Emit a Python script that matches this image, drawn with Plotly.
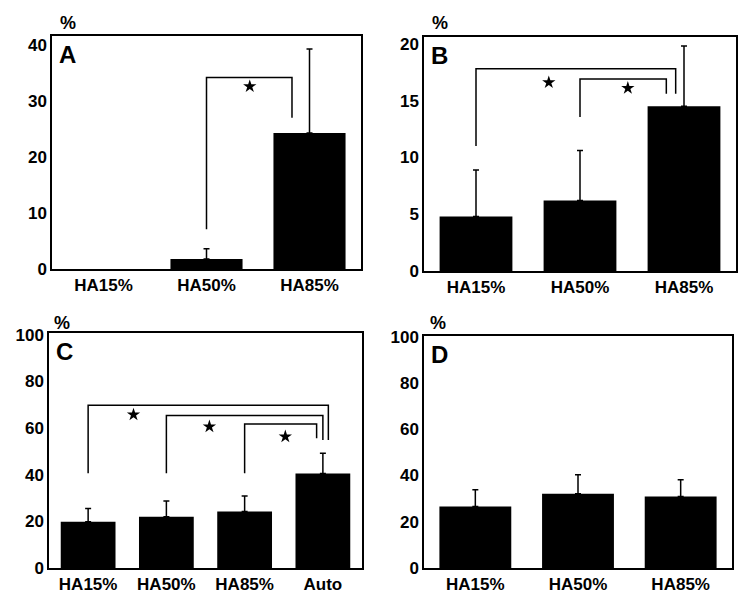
import math
import plotly.graph_objects as go

W, H = 741, 594

# ---- data ----
cats_3 = ["HA15%", "HA50%", "HA85%"]
cats_4 = ["HA15%", "HA50%", "HA85%", "Auto"]

a_vals = [0, 1.8, 24.3]
a_sd = [float("nan"), 1.8, 15.0]
b_vals = [4.8, 6.2, 14.5]
b_sd = [4.1, 4.4, 5.3]
c_vals = [19.8, 22.0, 24.2, 40.5]
c_sd = [5.7, 6.7, 6.6, 8.7]
d_vals = [26.6, 32.1, 30.9]
d_sd = [7.2, 8.2, 7.2]

# brackets: (left x, right x, top y, left bottom y, right bottom y)
a_brackets = [(1, 1.83, 34.2, 7.1, 27.0)]
a_stars_x, a_stars_y = [1.42], [32.6]
b_brackets = [(0, 1.92, 17.8, 11.0, 15.6), (1, 1.83, 16.9, 13.55, 15.6)]
b_stars_x, b_stars_y = [0.70, 1.46], [16.6, 16.1]
c_brackets = [(0, 3.07, 69.7, 40.6, 54.9), (1, 3.0, 65.4, 40.6, 54.9), (2, 2.92, 61.7, 40.6, 55.6)]
c_stars_x, c_stars_y = [0.58, 1.55, 2.52], [65.7, 60.6, 56.3]

a_ticks = [0, 10, 20, 30, 40]
b_ticks = [0, 5, 10, 15, 20]
cd_ticks = [0, 20, 40, 60, 80, 100]

# panel boxes in pixels: x0, x1, ytop, ybottom
boxes = {
    "A": (52, 361, 36, 269),
    "B": (424, 736, 37, 271),
    "C": (49, 362, 333, 568),
    "D": (424, 732, 336, 568),
}
yranges = {"A": 41.6, "B": 20.6, "C": 100.7, "D": 100.3}

FONT = "Liberation Sans, Arial, sans-serif"

fig = go.Figure()

panels = [
    ("A", cats_3, a_vals, a_sd, a_ticks, a_brackets, a_stars_x, a_stars_y),
    ("B", cats_3, b_vals, b_sd, b_ticks, b_brackets, b_stars_x, b_stars_y),
    ("C", cats_4, c_vals, c_sd, cd_ticks, c_brackets, c_stars_x, c_stars_y),
    ("D", cats_3, d_vals, d_sd, cd_ticks, [], [], []),
]

layout = {}
for i, (name, cats, vals, sd, ticks, brackets, sx, sy) in enumerate(panels):
    n = i + 1
    xa = "x" if n == 1 else f"x{n}"
    ya = "y" if n == 1 else f"y{n}"
    xpos = list(range(len(cats)))
    fig.add_trace(go.Bar(
        x=xpos, y=vals, width=0.7, marker=dict(color="black", line=dict(width=0)),
        xaxis=xa, yaxis=ya, showlegend=False,
    ))
    keep = [k for k in xpos if not math.isnan(sd[k])]
    fig.add_trace(go.Scatter(
        x=[xpos[k] for k in keep], y=[vals[k] for k in keep], mode="markers",
        marker=dict(size=0.1, color="black", opacity=0),
        error_y=dict(type="data", array=[sd[k] for k in keep], arrayminus=[0] * len(keep),
                     symmetric=False, color="black", thickness=1.5, width=3),
        xaxis=xa, yaxis=ya, showlegend=False, hoverinfo="skip",
    ))
    if brackets:
        bx, by = [], []
        for (l, r, top, lb, rb) in brackets:
            bx += [l, l, r, r, None]
            by += [lb, top, top, rb, None]
        fig.add_trace(go.Scatter(x=bx, y=by, mode="lines", line=dict(color="black", width=1.5),
                                 xaxis=xa, yaxis=ya, showlegend=False, hoverinfo="skip"))
        fig.add_trace(go.Scatter(x=sx, y=sy, mode="markers",
                                 marker=dict(symbol="star", size=10, color="black"),
                                 xaxis=xa, yaxis=ya, showlegend=False))
    x0, x1, yt, yb = boxes[name]
    xkey = "xaxis" if n == 1 else f"xaxis{n}"
    ykey = "yaxis" if n == 1 else f"yaxis{n}"
    layout[xkey] = dict(
        domain=[x0 / W, x1 / W], anchor=ya, range=[-0.5, len(cats) - 0.5],
        tickvals=xpos, ticktext=cats, showline=True, mirror=True, linecolor="black",
        linewidth=1.5, ticks="", showgrid=False, zeroline=False, fixedrange=True,
        automargin=False,
        tickfont=dict(family=FONT, size=17, color="black", weight="bold"),
    )
    layout[ykey] = dict(
        domain=[1 - yb / H, 1 - yt / H], anchor=xa, range=[0, yranges[name]],
        tickvals=ticks, showline=True, mirror=True, linecolor="black",
        linewidth=1.5, ticks="", showgrid=False, zeroline=False, fixedrange=True,
        automargin=False,
        tickfont=dict(family=FONT, size=17, color="black", weight="bold"),
    )

annotations = []
pct_pos = {"A": (68, 23), "B": (440, 23), "C": (62, 323), "D": (438, 323)}
for name, (x0, x1, yt, yb) in boxes.items():
    annotations.append(dict(
        text=f"<b>{name}</b>", x=(x0 + 5) / W, y=1 - (yt + 3) / H, xref="paper", yref="paper",
        xanchor="left", yanchor="top", showarrow=False,
        font=dict(family=FONT, size=24, color="black"),
    ))
    px, py = pct_pos[name]
    annotations.append(dict(
        text="<b>%</b>", x=px / W, y=1 - py / H, xref="paper", yref="paper",
        xanchor="center", yanchor="middle", showarrow=False,
        font=dict(family=FONT, size=18, color="black"),
    ))

fig.update_layout(
    width=W, height=H, margin=dict(l=0, r=0, t=0, b=0),
    paper_bgcolor="white", plot_bgcolor="white",
    annotations=annotations, bargap=0.3,
    **layout,
)

fig.write_html("out.html", config={"displayModeBar": False},
               post_script="document.body.style.margin='0';document.body.style.padding='0';")
